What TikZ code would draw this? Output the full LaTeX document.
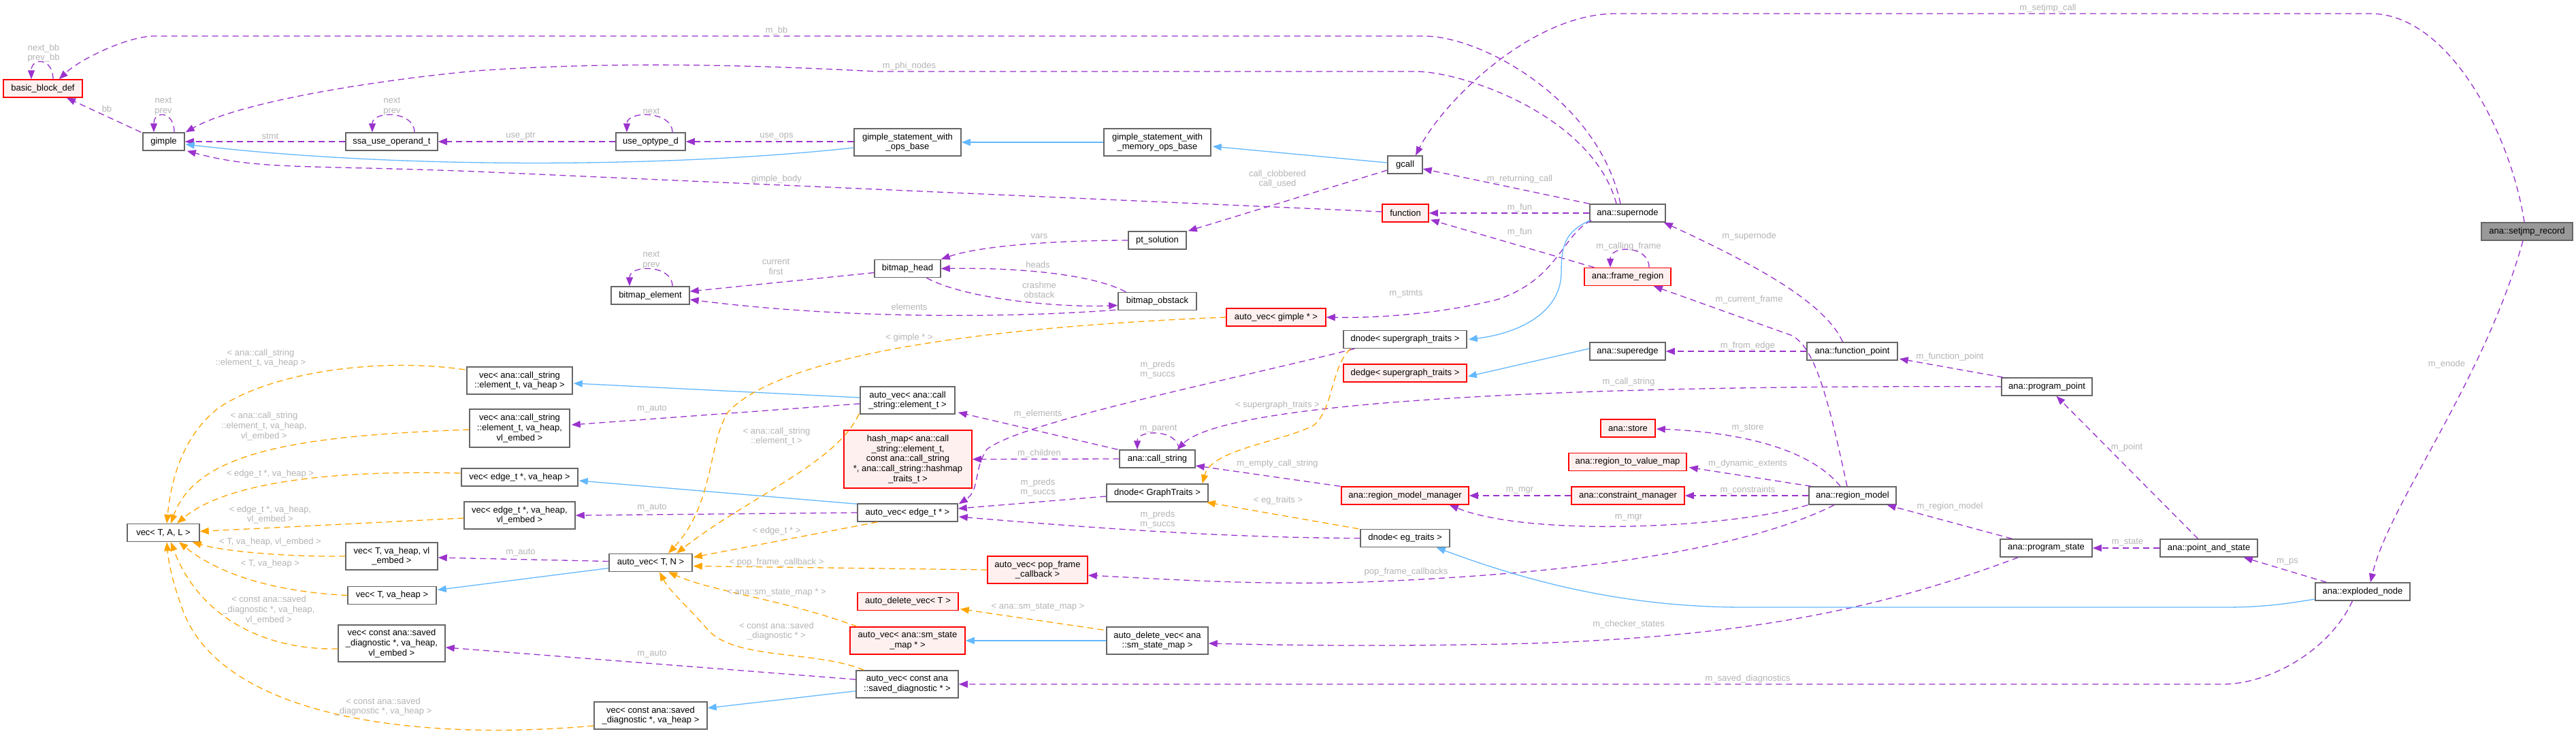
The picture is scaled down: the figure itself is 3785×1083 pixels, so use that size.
\documentclass[tikz,border=0pt]{standalone}
\usepackage{fontspec}
\setmainfont{Liberation Sans}
\usetikzlibrary{arrows.meta,calc}
\definecolor{cpur}{HTML}{9A32CD}
\definecolor{cblue}{HTML}{63B8FF}
\definecolor{cora}{HTML}{FFA500}
\definecolor{cbord}{HTML}{666666}
\definecolor{cred}{HTML}{FF0000}
\definecolor{cpink}{HTML}{FFF0F0}
\definecolor{cgrayfill}{HTML}{999999}
\definecolor{clbl}{HTML}{B4B4B4}
\newcommand\dxfont{\fontsize{6.5}{7.3}\selectfont}
\tikzset{
  box/.style={draw=cbord, fill=white, line width=0.75pt, inner sep=0pt, align=center, minimum height=13pt, text=black, font=\dxfont},
  redbox/.style={box, draw=cred, fill=cpink},
  graybox/.style={box, fill=cgrayfill},
  tipst/.style={-{Triangle[length=6.5pt,width=5pt]}},
  use/.style={draw=cpur, line width=0.65pt, dash pattern=on 4.5pt off 3pt, tipst},
  inh/.style={draw=cblue, line width=0.65pt, tipst},
  tpl/.style={draw=cora, line width=0.65pt, dash pattern=on 4.5pt off 3pt, tipst},
  lbl/.style={text=clbl, align=center, inner sep=0pt, font=\dxfont},
}
\begin{document}
\begin{tikzpicture}[x=0.5pt,y=-0.5pt]
\useasboundingbox (0,0) rectangle (3785,1083);
\fill[white] (0,0) rectangle (3785,1083);

% ---------------- nodes ----------------
\node[redbox, minimum width=58pt] (bbd) at (63,130) {basic\_block\_def};
\node[box, minimum width=30.5pt] (gimple) at (240.5,208) {gimple};
\node[box, minimum width=67.5pt] (ssa) at (575.5,208) {ssa\_use\_operand\_t};
\node[box, minimum width=51pt] (useopt) at (956,208) {use\_optype\_d};
\node[box, minimum width=78.5pt, minimum height=20pt] (gswops) at (1333.5,209) {gimple\_statement\_with\\\_ops\_base};
\node[box, minimum width=78.5pt, minimum height=20pt] (gswmem) at (1700.5,209) {gimple\_statement\_with\\\_memory\_ops\_base};
\node[box, minimum width=25.5pt] (gcall) at (2064.5,242) {gcall};
\node[redbox, minimum width=34pt] (function) at (2065,313) {function};
\node[box, minimum width=55.5pt] (supernode) at (2391.5,313) {ana::supernode};
\node[graybox, minimum width=67pt] (setjmp) at (3713,340) {ana::setjmp\_record};
\node[box, minimum width=42.5pt] (ptsol) at (1700.5,353) {pt\_solution};
\node[box, minimum width=48.5pt] (bhead) at (1333.5,394.5) {bitmap\_head};
\node[box, minimum width=57.5pt] (belem) at (955.5,434) {bitmap\_element};
\node[box, minimum width=57.5pt] (bobst) at (1700.5,442.5) {bitmap\_obstack};
\node[redbox, minimum width=73pt] (avgimple) at (1875,466) {auto\_vec< gimple * >};
\node[box, minimum width=90.5pt] (dnodesg) at (2064.5,498.5) {dnode< supergraph\_traits >};
\node[redbox, minimum width=90.5pt] (dedgesg) at (2064.5,548) {dedge< supergraph\_traits >};
\node[redbox, minimum width=63.5pt] (framereg) at (2391.5,406.5) {ana::frame\_region};
\node[box, minimum width=55.5pt] (superedge) at (2391.5,516) {ana::superedge};
\node[box, minimum width=66.5pt] (funcpoint) at (2721.5,516) {ana::function\_point};
\node[box, minimum width=66.5pt] (progpoint) at (3007.5,568) {ana::program\_point};
\node[redbox, minimum width=40pt] (store) at (2392,629) {ana::store};
\node[redbox, minimum width=86.5pt] (r2v) at (2391.5,678.5) {ana::region\_to\_value\_map};
\node[redbox, minimum width=93.5pt] (rmm) at (2064.5,728) {ana::region\_model\_manager};
\node[redbox, minimum width=83pt] (cm) at (2392,728) {ana::constraint\_manager};
\node[box, minimum width=64pt] (rm) at (2722,728) {ana::region\_model};
\node[box, minimum width=65.5pt] (dnodeeg) at (2064.5,790.5) {dnode< eg\_traits >};
\node[box, minimum width=67.5pt] (progstate) at (3006.5,805) {ana::program\_state};
\node[box, minimum width=71.5pt] (pas) at (3245.5,805) {ana::point\_and\_state};
\node[box, minimum width=69.5pt] (enode) at (3471.5,869) {ana::exploded\_node};
\node[box, minimum width=77.5pt, minimum height=20pt] (veccs) at (763.5,559) {vec< ana::call\_string\\::element\_t, va\_heap >};
\node[box, minimum width=73.5pt, minimum height=28pt] (veccse) at (763.5,629) {vec< ana::call\_string\\::element\_t, va\_heap,\\vl\_embed >};
\node[box, minimum width=85.5pt] (vecedge) at (763.5,701) {vec< edge\_t *, va\_heap >};
\node[box, minimum width=81.5pt, minimum height=20pt] (vecedgee) at (763.5,757) {vec< edge\_t *, va\_heap,\\vl\_embed >};
\node[box, minimum width=53pt] (vecTAL) at (240,782.5) {vec< T, A, L >};
\node[box, minimum width=67.5pt, minimum height=20pt] (vecTve) at (575.5,817) {vec< T, va\_heap, vl\\\_embed >};
\node[box, minimum width=65pt] (vecTv) at (576,874.5) {vec< T, va\_heap >};
\node[box, minimum width=78.5pt, minimum height=27pt] (vecsde) at (575.5,945) {vec< const ana::saved\\\_diagnostic *, va\_heap,\\vl\_embed >};
\node[box, minimum width=83pt, minimum height=20pt] (vecsd) at (956,1051) {vec< const ana::saved\\\_diagnostic *, va\_heap >};
\node[box, minimum width=69.5pt, minimum height=20pt] (avcs) at (1333.5,588) {auto\_vec< ana::call\\\_string::element\_t >};
\node[redbox, minimum width=94pt, minimum height=42.5pt] (hashmap) at (1334,674.5) {hash\_map< ana::call\\\_string::element\_t,\\ const ana::call\_string\\ *, ana::call\_string::hashmap\\\_traits\_t >};
\node[box, minimum width=55.5pt] (callstr) at (1700.5,674) {ana::call\_string};
\node[box, minimum width=74.5pt] (dnodegt) at (1700.5,724) {dnode< GraphTraits >};
\node[box, minimum width=73.5pt] (avedge) at (1333.5,753) {auto\_vec< edge\_t * >};
\node[box, minimum width=61pt] (avTN) at (956,826.5) {auto\_vec< T, N >};
\node[redbox, minimum width=73.5pt, minimum height=20pt] (avpop) at (1524.5,837) {auto\_vec< pop\_frame\\\_callback >};
\node[redbox, minimum width=74pt] (adv) at (1334,883.5) {auto\_delete\_vec< T >};
\node[redbox, minimum width=84.5pt, minimum height=20pt] (avsm) at (1333.5,941) {auto\_vec< ana::sm\_state\\\_map * >};
\node[box, minimum width=74.5pt, minimum height=20pt] (adsm) at (1700.5,941) {auto\_delete\_vec< ana\\::sm\_state\_map >};
\node[box, minimum width=75pt, minimum height=20pt] (avsd) at (1333,1005) {auto\_vec< const ana\\::saved\_diagnostic * >};

% ---------------- self loops ----------------
\draw[use] ($(bbd.north)+(15,0)$) .. controls +(0,-32) and +(0,-32) .. ($(bbd.north)+(-17,0)$);
\draw[use] ($(gimple.north)+(15.5,0)$) .. controls +(0,-32) and +(0,-32) .. ($(gimple.north)+(-14.5,0)$);
\draw[use] ($(ssa.north)+(33.5,0)$) .. controls +(0,-32) and +(0,-32) .. ($(ssa.north)+(-28.5,0)$);
\draw[use] ($(useopt.north)+(32,0)$) .. controls +(0,-32) and +(0,-32) .. ($(useopt.north)+(-35,0)$);
\draw[use] ($(belem.north)+(32.5,0)$) .. controls +(0,-32) and +(0,-32) .. ($(belem.north)+(-30.5,0)$);
\draw[use] ($(framereg.north)+(31.5,0)$) .. controls +(0,-33) and +(0,-33) .. ($(framereg.north)+(-25.5,0)$);
\draw[use] ($(callstr.north)+(31.5,0)$) .. controls +(0,-30) and +(0,-30) .. ($(callstr.north)+(-29.5,0)$);

% ---------------- purple (usage) ----------------
\draw[use] (ssa.west) -- (gimple.east);
\draw[use] (useopt.west) -- (ssa.east);
\draw[use] ($(gswops.west)+(0,-1)$) -- (useopt.east);
\draw[use] ($(gimple.north west)+(-2,0)$) -- ($(bbd.south)+(35,0)$);
\draw[use] ($(supernode.north)+(-10.5,0)$) .. controls (2350,150) and (2180,53) .. (2092,53) -- (226,53) .. controls (190,53) and (120,85) .. ($(bbd.north east)+(-35,0)$);
\draw[use] ($(supernode.north)+(-16.5,0)$) .. controls (2340,170) and (2150,105) .. (2080,105) -- (1288,105) .. controls (1100,95) and (900,90) .. (700,104) .. controls (550,118) and (350,150) .. ($(gimple.north east)+(1,0)$);
\draw[use] ($(function.west)+(0,-2)$) -- (700,252) .. controls (450,242) and (380,250) .. ($(gimple.south east)+(3,0)$);
\draw[use] ($(setjmp.north)+(-4,0)$) .. controls (3690,200) and (3600,20) .. (3483,20) -- (2374,20) .. controls (2250,20) and (2120,150) .. ($(gcall.north)+(15.5,0)$);
\draw[use] (supernode.north west) -- ($(gcall.east)+(0,6)$);
\draw[use] (supernode.west) -- (function.east);
\draw[use] ($(framereg.north west)+(15,0)$) -- ($(function.south east)+(2,-4)$);
\draw[use] ($(funcpoint.north)+(-14,0)$) .. controls (2680,440) and (2560,380) .. ($(supernode.south east)+(-3,0)$);
\draw[use] ($(rm.north)+(-8,0)$) .. controls (2685,580) and (2665,500) .. (2625,490) -- ($(framereg.south east)+(-26,0)$);
\draw[use] (funcpoint.west) -- (superedge.east);
\draw[use] ($(progpoint.north west)+(3,0)$) -- ($(funcpoint.east)+(2,11)$);
\draw[use] (progpoint.west) .. controls (2300,565) and (1800,590) .. ($(callstr.north east)+(-27,0)$);
\draw[use] ($(callstr.north west)+(-2,0)$) -- ($(avcs.south east)+(4,-3)$);
\draw[use] (callstr.west) -- (hashmap.east);
\draw[use] ($(avcs.west)+(0,5)$) -- ($(veccse.east)+(2,-5)$);
\draw[use] ($(bhead.west)+(0,6)$) -- ($(belem.east)+(0,-6)$);
\draw[use] ($(bobst.south west)+(-3,-1)$) .. controls (1500,466) and (1250,470) .. ($(belem.east)+(0,6)$);
\draw[use] ($(bobst.north west)+(12,0)$) .. controls (1600,400) and (1480,393) .. (bhead.east);
\draw[use] ($(bhead.south)+(28,0)$) .. controls (1420,440) and (1560,452) .. ($(bobst.west)+(0,6)$);
\draw[use] (ptsol.west) .. controls (1580,353) and (1450,358) .. (bhead.north east);
\draw[use] ($(gcall.west)+(0,8)$) -- ($(ptsol.north east)+(2,0)$);
\draw[use] ($(supernode.south west)+(3,-3)$) .. controls (2295,345) and (2290,410) .. (2200,440) .. controls (2100,465) and (2000,467) .. (avgimple.east);
\draw[use] ($(dnodesg.south west)+(17,0)$) .. controls (1800,560) and (1500,620) .. (1450,660) .. controls (1430,690) and (1440,720) .. ($(avedge.north east)+(1,1)$);
\draw[use] ($(dnodegt.west)+(0,5)$) -- ($(avedge.east)+(0,-6)$);
\draw[use] (dnodeeg.west) .. controls (1800,790) and (1600,775) .. ($(avedge.east)+(1,6)$);
\draw[use] (avedge.west) -- (vecedgee.east);
\draw[use] ($(avTN.west)+(0,-2)$) -- ($(vecTve.east)+(0,2)$);
\draw[use] ($(avsd.west)+(0,-7)$) -- ($(vecsde.east)+(0,6)$);
\draw[use] ($(rm.south)+(-27,0)$) .. controls (2600,790) and (2400,840) .. (2000,855) .. controls (1850,860) and (1700,850) .. ($(avpop.east)+(0,8)$);
\draw[use] ($(progstate.south west)+(27,0)$) .. controls (2750,900) and (2550,935) .. (2250,945) .. controls (2050,950) and (1900,948) .. ($(adsm.east)+(0,4)$);
\draw[use] ($(enode.south)+(-15,0)$) .. controls (3420,960) and (3330,1005) .. (3266,1005) -- (avsd.east);
\draw[use] (cm.west) -- (rmm.east);
\draw[use] (rm.west) -- (cm.east);
\draw[use] ($(rm.south west)+(-1,0)$) .. controls (2550,775) and (2250,790) .. ($(rmm.south east)+(-29,0)$);
\draw[use] ($(rm.north west)+(4,0)$) -- ($(r2v.east)+(3,8)$);
\draw[use] ($(rm.north)+(-18,0)$) .. controls (2660,660) and (2560,635) .. ($(store.east)+(1,1)$);
\draw[use] ($(progstate.north west)+(18,0)$) -- ($(rm.south east)+(-14,0)$);
\draw[use] (pas.west) -- (progstate.east);
\draw[use] ($(enode.north west)+(17,0)$) -- ($(pas.south east)+(-21,0)$);
\draw[use] ($(pas.north)+(-16,0)$) -- ($(progpoint.south)+(14,0)$);
\draw[use] ($(setjmp.south)+(-6,0)$) .. controls (3650,560) and (3510,740) .. ($(enode.north)+(11.5,0)$);
\draw[use] ($(rmm.north west)+(-1,0)$) -- ($(callstr.east)+(0,10)$);

% ---------------- blue (inheritance) ----------------
\draw[inh] ($(gswops.west)+(0,8)$) .. controls (1000,245) and (600,250) .. ($(gimple.east)+(1,4)$);
\draw[inh] (gswmem.west) -- (gswops.east);
\draw[inh] ($(gcall.west)+(0,-3)$) -- ($(gswmem.east)+(2,6)$);
\draw[inh] ($(supernode.south west)+(1,-3)$) .. controls (2300,340) and (2294,360) .. (2294,400) .. controls (2294,460) and (2230,490) .. ($(dnodesg.east)+(2,0)$);
\draw[inh] ($(superedge.west)+(0,-4)$) -- ($(dedgesg.east)+(1,5)$);
\draw[inh] ($(avcs.west)+(0,-4)$) -- ($(veccs.east)+(1,4)$);
\draw[inh] ($(avedge.north west)+(0,1)$) -- ($(vecedge.east)+(1,5)$);
\draw[inh] ($(avTN.west)+(0,8)$) -- ($(vecTv.east)+(1,-8)$);
\draw[inh] ($(avsd.west)+(0,10)$) -- ($(vecsd.east)+(0,-11)$);
\draw[inh] (adsm.west) -- (avsm.east);
\draw[inh] ($(enode.west)+(0,11)$) .. controls (3330,892) and (3300,892) .. (3254,892) -- (2564,892) .. controls (2400,892) and (2260,860) .. ($(dnodeeg.south east)+(-20,0)$);

% ---------------- orange (template) ----------------
\draw[tpl] ($(veccs.west)+(-2,-16)$) .. controls (560,525) and (400,545) .. (320,600) .. controls (270,640) and (252,700) .. ($(vecTAL.north)+(5,0)$);
\draw[tpl] ($(veccse.west)+(0,2)$) .. controls (450,640) and (290,660) .. ($(vecTAL.north)+(11,0)$);
\draw[tpl] ($(vecedge.west)+(-1,-6)$) .. controls (480,690) and (330,710) .. ($(vecTAL.north)+(20,0)$);
\draw[tpl] ($(vecedgee.west)+(0,4)$) -- ($(vecTAL.east)+(0,-2)$);
\draw[tpl] (vecTve.west) .. controls (420,818) and (330,810) .. ($(vecTAL.south east)+(-11,0)$);
\draw[tpl] (vecTv.west) .. controls (420,870) and (330,850) .. ($(vecTAL.south)+(23,0)$);
\draw[tpl] ($(vecsde.west)+(0,8)$) .. controls (380,955) and (290,900) .. ($(vecTAL.south)+(11,0)$);
\draw[tpl] ($(vecsd.west)+(0,15)$) .. controls (600,1090) and (330,1050) .. (270,900) .. controls (255,860) and (248,830) .. ($(vecTAL.south)+(5,0)$);
\draw[tpl] (avgimple.west) .. controls (1450,480) and (1150,520) .. (1070,605) .. controls (1040,650) and (1050,740) .. ($(avTN.north)+(26,0)$);
\draw[tpl] ($(avcs.south west)+(-1,-1)$) .. controls (1230,680) and (1100,730) .. ($(avTN.north)+(38,0)$);
\draw[tpl] ($(avedge.south west)+(30,0)$) -- ($(avTN.east)+(1,-8)$);
\draw[tpl] (avpop.west) -- ($(avTN.east)+(1,5)$);
\draw[tpl] ($(avsm.north west)+(11,0)$) .. controls (1150,880) and (1050,870) .. ($(avTN.south)+(26,0)$);
\draw[tpl] ($(avsd.north west)+(12,0)$) .. controls (1200,955) and (1080,970) .. (1040,925) .. controls (1010,890) and (985,870) .. ($(avTN.south)+(13,0)$);
\draw[tpl] ($(adsm.north west)+(-4,5)$) -- ($(adv.east)+(2,11)$);
\draw[tpl] ($(dnodesg.south west)+(11,0)$) .. controls (1955,540) and (1960,600) .. (1930,625) .. controls (1880,650) and (1780,660) .. ($(dnodegt.north east)+(-9,0)$);
\draw[tpl] ($(dnodeeg.north west)+(-2,0)$) -- ($(dnodegt.south east)+(-3,0)$);

% ---------------- labels ----------------
\node[lbl] (t01) at (64,78) {next\_bb\\prev\_bb};
\node[lbl] (t02) at (240,156) {next\\prev};
\node[lbl] (t03) at (576,156) {next\\prev};
\node[lbl] (t04) at (957,163) {next};
\node[lbl] (t05) at (157,160) {bb};
\node[lbl] (t06) at (397,200) {stmt};
\node[lbl] (t07) at (765,200) {use\_ptr};
\node[lbl] (t08) at (1141,200) {use\_ops};
\node[lbl] (t09) at (1141,45) {m\_bb};
\node[lbl] (t10) at (1336,97) {m\_phi\_nodes};
\node[lbl] (t11) at (1141,263) {gimple\_body};
\node[lbl] (t12) at (3009,12) {m\_setjmp\_call};
\node[lbl] (t13) at (2233,263) {m\_returning\_call};
\node[lbl] (t14) at (2233,305) {m\_fun};
\node[lbl] (t15) at (2233,341) {m\_fun};
\node[lbl] (t16) at (2393,362) {m\_calling\_frame};
\node[lbl] (t17) at (2570,347) {m\_supernode};
\node[lbl] (t18) at (2570,440) {m\_current\_frame};
\node[lbl] (t19) at (2568,508) {m\_from\_edge};
\node[lbl] (t20) at (2865,524) {m\_function\_point};
\node[lbl] (t21) at (2393,561) {m\_call\_string};
\node[lbl] (t22) at (2568,629) {m\_store};
\node[lbl] (t23) at (2568,681) {m\_dynamic\_extents};
\node[lbl] (t24) at (2233,720) {m\_mgr};
\node[lbl] (t25) at (2568,720) {m\_constraints};
\node[lbl] (t26) at (2393,760) {m\_mgr};
\node[lbl] (t27) at (2865,744) {m\_region\_model};
\node[lbl] (t28) at (3126,797) {m\_state};
\node[lbl] (t29) at (3361,825) {m\_ps};
\node[lbl] (t30) at (3125,657) {m\_point};
\node[lbl] (t31) at (3595,535) {m\_enode};
\node[lbl] (t32) at (2568,997) {m\_saved\_diagnostics};
\node[lbl] (t33) at (2393,917) {m\_checker\_states};
\node[lbl] (t34) at (2066,840) {pop\_frame\_callbacks};
\node[lbl] (t35) at (2066,432) {m\_stmts};
\node[lbl] (t36) at (1877,263) {call\_clobbered\\call\_used};
\node[lbl] (t37) at (1527,347) {vars};
\node[lbl] (t38) at (1525,389) {heads};
\node[lbl] (t39) at (1527,426) {crashme\\obstack};
\node[lbl] (t40) at (1336,451) {elements};
\node[lbl] (t41) at (1140,392) {current\\first};
\node[lbl] (t42) at (957,382) {next\\prev};
\node[lbl] (t43) at (1701,543) {m\_preds\\m\_succs};
\node[lbl] (t44) at (1877,595) {< supergraph\_traits >};
\node[lbl] (t45) at (1525,608) {m\_elements};
\node[lbl] (t46) at (1702,630) {m\_parent};
\node[lbl] (t47) at (1527,666) {m\_children};
\node[lbl] (t48) at (1877,681) {m\_empty\_call\_string};
\node[lbl] (t49) at (1525,716) {m\_preds\\m\_succs};
\node[lbl] (t50) at (1878,735) {< eg\_traits >};
\node[lbl] (t51) at (1701,763) {m\_preds\\m\_succs};
\node[lbl] (t52) at (958,601) {m\_auto};
\node[lbl] (t53) at (958,746) {m\_auto};
\node[lbl] (t54) at (765,812) {m\_auto};
\node[lbl] (t55) at (958,961) {m\_auto};
\node[lbl] (t56) at (1336,496) {< gimple * >};
\node[lbl] (t57) at (1141,641) {< ana::call\_string\\::element\_t >};
\node[lbl] (t58) at (1141,780) {< edge\_t * >};
\node[lbl] (t59) at (1141,826) {< pop\_frame\_callback >};
\node[lbl] (t60) at (1141,870) {< ana::sm\_state\_map * >};
\node[lbl] (t61) at (1141,927) {< const ana::saved\\\_diagnostic * >};
\node[lbl] (t62) at (1525,892) {< ana::sm\_state\_map >};
\node[lbl] (t63) at (383,526) {< ana::call\_string\\::element\_t, va\_heap >};
\node[lbl] (t64) at (388,626) {< ana::call\_string\\::element\_t, va\_heap,\\vl\_embed >};
\node[lbl] (t65) at (397,696) {< edge\_t *, va\_heap >};
\node[lbl] (t66) at (397,756) {< edge\_t *, va\_heap,\\vl\_embed >};
\node[lbl] (t67) at (397,796) {< T, va\_heap, vl\_embed >};
\node[lbl] (t68) at (397,828) {< T, va\_heap >};
\node[lbl] (t69) at (395,896) {< const ana::saved\\\_diagnostic *, va\_heap,\\vl\_embed >};
\node[lbl] (t70) at (563,1038) {< const ana::saved\\\_diagnostic *, va\_heap >};
\end{tikzpicture}
\end{document}
